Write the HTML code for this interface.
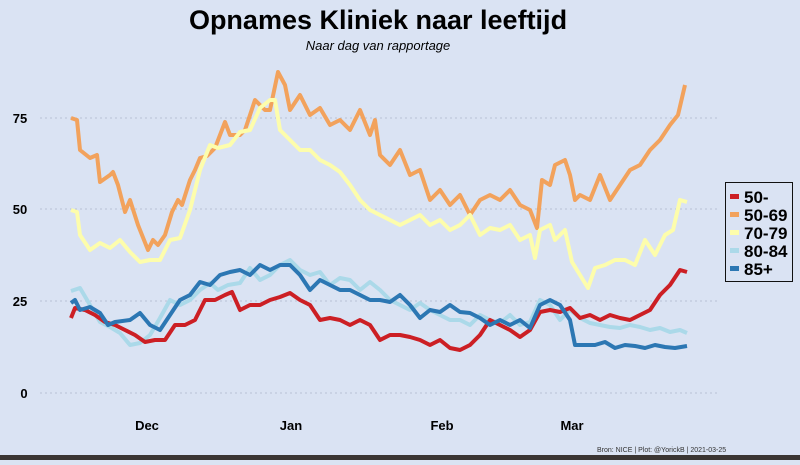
<!DOCTYPE html><html><head><style>body{margin:0;width:800px;height:460px;overflow:hidden;background:#dae3f3}</style></head><body>
<svg width="800" height="460" xmlns="http://www.w3.org/2000/svg" font-family="Liberation Sans, sans-serif">
<rect width="800" height="460" fill="#dae3f3"/>
<rect y="455" width="800" height="5" fill="#3a3533"/>
<text x="378" y="29" text-anchor="middle" font-size="27" font-weight="bold">Opnames Kliniek naar leeftijd</text>
<text x="378" y="50" text-anchor="middle" font-size="13" font-style="italic">Naar dag van rapportage</text>
<g stroke="#b8c2d4" stroke-dasharray="2,3" stroke-width="1">
<line x1="40" x2="720" y1="118" y2="118"/><line x1="40" x2="720" y1="209" y2="209"/><line x1="40" x2="720" y1="301" y2="301"/><line x1="40" x2="720" y1="393" y2="393"/></g>
<g font-size="13" font-weight="bold" text-anchor="middle">
<text x="20" y="123">75</text><text x="20" y="214">50</text><text x="20" y="306">25</text><text x="24" y="398">0</text>
<text x="147" y="430">Dec</text><text x="291" y="430">Jan</text><text x="442" y="430">Feb</text><text x="572" y="430">Mar</text></g>
<text x="597" y="452" font-size="7" fill="#333">Bron: NICE | Plot: @YorickB  |  2021-03-25</text>
<g fill="none" stroke-width="4" stroke-linejoin="round">
<polyline stroke="#f2a25c" points="71,118 77,120 80,150 90,158 97,155 100,182 110,175 113,172 118,185 125,212 130,200 138,225 148,250 153,240 158,245 165,235 172,212 178,200 182,205 190,180 195,170 200,158 207,156 215,148 225,122 230,135 240,135 245,130 255,100 265,110 270,110 278,72 285,85 290,110 300,95 310,115 320,108 330,125 340,120 350,130 360,110 370,135 375,120 380,155 390,165 400,150 410,175 420,170 430,200 440,190 450,205 460,195 470,215 480,200 490,195 500,200 510,190 520,205 530,210 537,228 542,180 550,185 555,165 565,160 570,175 575,200 580,195 590,200 600,175 610,200 620,185 630,170 640,165 650,150 660,140 670,125 678,115 685,85"/>
<polyline stroke="#fdfdac" points="71,210 77,212 80,235 90,250 100,243 110,248 120,240 130,252 140,262 150,260 160,260 170,240 180,238 190,210 200,170 210,145 218,148 230,145 240,132 250,130 260,108 270,100 275,100 280,130 290,140 300,150 310,150 320,160 330,165 340,172 350,185 360,200 370,210 380,215 390,220 400,225 410,220 420,215 430,225 440,220 450,230 460,225 470,215 480,235 490,228 500,230 510,225 520,240 530,235 535,258 540,230 550,225 555,240 565,230 572,262 580,275 588,288 595,268 605,265 615,260 625,260 635,265 645,240 655,255 665,235 673,230 680,200 687,202"/>
<polyline stroke="#abd9e9" points="71,291 80,288 90,305 100,322 110,327 120,333 130,345 140,343 150,335 160,318 170,300 180,305 190,300 200,290 210,283 218,290 228,285 240,283 250,268 260,280 270,275 280,265 290,260 300,270 310,275 320,272 330,285 340,278 350,280 360,290 370,282 380,290 390,300 400,305 410,310 420,303 430,310 440,315 450,320 460,320 470,325 480,315 490,320 500,323 510,315 520,325 530,322 540,300 550,305 560,320 570,310 580,318 590,323 600,325 610,327 620,328 630,325 640,327 650,330 660,328 670,332 680,330 687,333"/>
<polyline stroke="#cc1f24" points="71,318 75,308 85,310 95,315 105,322 115,325 125,330 135,335 145,342 155,340 165,340 175,325 185,325 195,320 205,300 215,300 225,295 232,292 240,310 250,305 260,305 270,300 280,297 290,293 300,300 310,305 320,320 330,318 340,320 350,325 360,320 370,325 380,340 390,335 400,335 410,337 420,340 430,345 440,340 450,348 460,350 470,345 480,335 490,320 500,325 510,330 520,337 530,330 540,312 550,310 560,312 570,308 580,318 590,315 600,320 610,315 620,318 630,320 640,315 650,310 660,295 670,285 680,270 687,272"/>
<polyline stroke="#2c77b3" points="71,303 75,300 80,310 90,307 100,313 108,325 115,322 130,320 140,313 150,325 160,330 170,315 180,300 190,295 200,282 210,285 220,275 230,272 240,270 250,275 260,265 270,270 280,265 290,265 300,275 310,290 320,280 330,285 340,290 350,290 360,295 370,300 380,300 390,302 400,295 410,305 420,318 430,310 440,312 450,305 460,312 470,313 480,318 490,325 500,320 510,325 520,320 530,328 540,305 550,300 560,305 570,320 575,345 585,345 595,345 605,342 615,348 625,345 635,346 645,348 655,345 665,347 675,348 687,346"/>
</g>
<rect x="725.5" y="182.5" width="67" height="99" fill="#dae3f3" stroke="#111"/>
<g font-size="17" font-weight="bold">
<rect x="730" y="194" width="9" height="5" fill="#cc1f24"/><text x="744" y="203">50-</text>
<rect x="730" y="212" width="9" height="5" fill="#f2a25c"/><text x="744" y="221">50-69</text>
<rect x="730" y="230" width="9" height="5" fill="#fdfdac"/><text x="744" y="239">70-79</text>
<rect x="730" y="248" width="9" height="5" fill="#abd9e9"/><text x="744" y="257">80-84</text>
<rect x="730" y="266" width="9" height="5" fill="#2c77b3"/><text x="744" y="275">85+</text></g>
</svg></body></html>
